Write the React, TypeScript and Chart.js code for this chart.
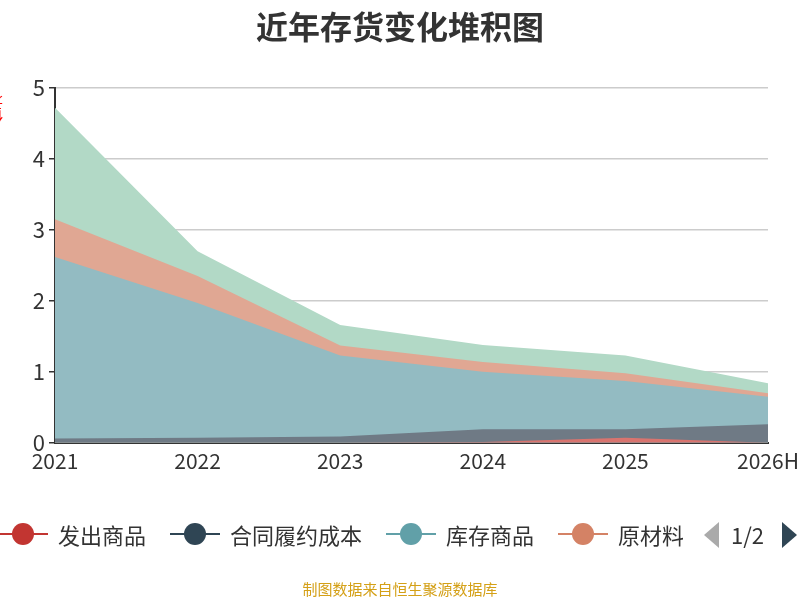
import React, { useEffect, useRef } from "react";
import { Chart, registerables } from "chart.js";
Chart.register(...registerables);

const categories = ["2021", "2022", "2023", "2024", "2025", "2026H"];
const faChu = [0, 0, 0, 0.01, 0.07, 0];
const heTong = [0.06, 0.07, 0.09, 0.18, 0.12, 0.26];
const kuCun = [2.56, 1.9, 1.14, 0.81, 0.68, 0.39];
const yuanCai = [0.53, 0.38, 0.14, 0.14, 0.11, 0.05];
const zaiChan = [1.57, 0.35, 0.29, 0.24, 0.25, 0.14];
const yTicks = [0, 1, 2, 3, 4, 5];

const FONT = "'Noto Sans CJK SC', 'Noto Sans', sans-serif";

const legendItems = [
  { name: "发出商品", color: "#c23531" },
  { name: "合同履约成本", color: "#2f4554" },
  { name: "库存商品", color: "#61a0a8" },
  { name: "原材料", color: "#d48265" },
];

export default function App() {
  const ref = useRef<HTMLCanvasElement>(null);
  useEffect(() => {
    const mk = (label: string, data: number[], color: string) => ({
      label, data, backgroundColor: color, borderColor: color, borderWidth: 0,
      pointRadius: 0, fill: true, tension: 0,
    });
    const chart = new Chart(ref.current!, {
      type: "line",
      data: {
        labels: categories,
        datasets: [
          mk("发出商品", faChu, "rgba(217,116,111,1)"),
          mk("合同履约成本", heTong, "rgba(111,122,133,1)"),
          mk("库存商品", kuCun, "rgba(147,187,194,1)"),
          mk("原材料", yuanCai, "rgba(224,167,147,1)"),
          mk("在产品", zaiChan, "rgba(178,217,198,1)"),
        ],
      },
      options: {
        animation: false,
        responsive: false,
        layout: { padding: { left: 0, right: 32, top: 88, bottom: 126 } },
        plugins: { legend: { display: false }, title: { display: false }, tooltip: { enabled: false } },
        scales: {
          x: {
            offset: false,
            grid: { display: false, drawTicks: true, tickLength: 6, color: "#333" },
            border: { color: "#333", width: 2 },
            ticks: { color: "#333", font: { family: FONT, size: 21 }, maxRotation: 0, autoSkip: false, padding: 0 },
          },
          y: {
            stacked: true, min: 0, max: 5,
            afterBuildTicks: (s: any) => { s.ticks = yTicks.map((v) => ({ value: v })); },
            afterFit: (s: any) => { s.width = 55; },
            grid: { color: "#ccc", lineWidth: 1.5, tickLength: 6, tickColor: "#333" },
            border: { color: "#333", width: 2 },
            ticks: { color: "#333", font: { family: FONT, size: 22 }, padding: 4 },
          },
        },
      },
    });
    return () => chart.destroy();
  }, []);
  return (
    <div style={{ position: "fixed", left: 0, top: 0, width: 800, height: 600, background: "#fff", fontFamily: FONT }}>
      <canvas ref={ref} width={800} height={600} style={{ position: "absolute", left: 0, top: 0 }} />
      <div style={{ position: "absolute", top: 2, width: 800, textAlign: "center", fontSize: 32, fontWeight: "bold", color: "#333" }}>近年存货变化堆积图</div>
      <div style={{ position: "absolute", left: -14, top: 96, color: "red", fontSize: 14, writingMode: "vertical-rl", transform: "rotate(180deg)" }}>亿元</div>
      <div style={{ position: "absolute", left: 0, top: 516, width: 683, height: 36, overflow: "hidden", whiteSpace: "nowrap" }}>
        <div style={{ position: "absolute", left: -2, display: "flex", alignItems: "center", height: 36 }}>
          {legendItems.map((it) => (
            <div key={it.name} style={{ display: "flex", alignItems: "center", marginRight: 24 }}>
              <div style={{ position: "relative", width: 50, height: 24 }}>
                <div style={{ position: "absolute", left: 0, top: 11, width: 50, height: 2, background: it.color }} />
                <div style={{ position: "absolute", left: 14, top: 1, width: 22, height: 22, borderRadius: 11, background: it.color }} />
              </div>
              <span style={{ fontSize: 22, color: "#333", marginLeft: 10 }}>{it.name}</span>
            </div>
          ))}
        </div>
      </div>
      <div style={{ position: "absolute", left: 704, top: 522, width: 0, height: 0, borderTop: "13px solid transparent", borderBottom: "13px solid transparent", borderRight: "15px solid #aaa" }} />
      <div style={{ position: "absolute", left: 731, top: 518, fontSize: 22, color: "#333" }}>1/2</div>
      <div style={{ position: "absolute", left: 782, top: 522, width: 0, height: 0, borderTop: "13px solid transparent", borderBottom: "13px solid transparent", borderLeft: "15px solid #2f4554" }} />
      <div style={{ position: "absolute", top: 578, width: 800, textAlign: "center", fontSize: 15, color: "#d4a017" }}>制图数据来自恒生聚源数据库</div>
    </div>
  );
}
